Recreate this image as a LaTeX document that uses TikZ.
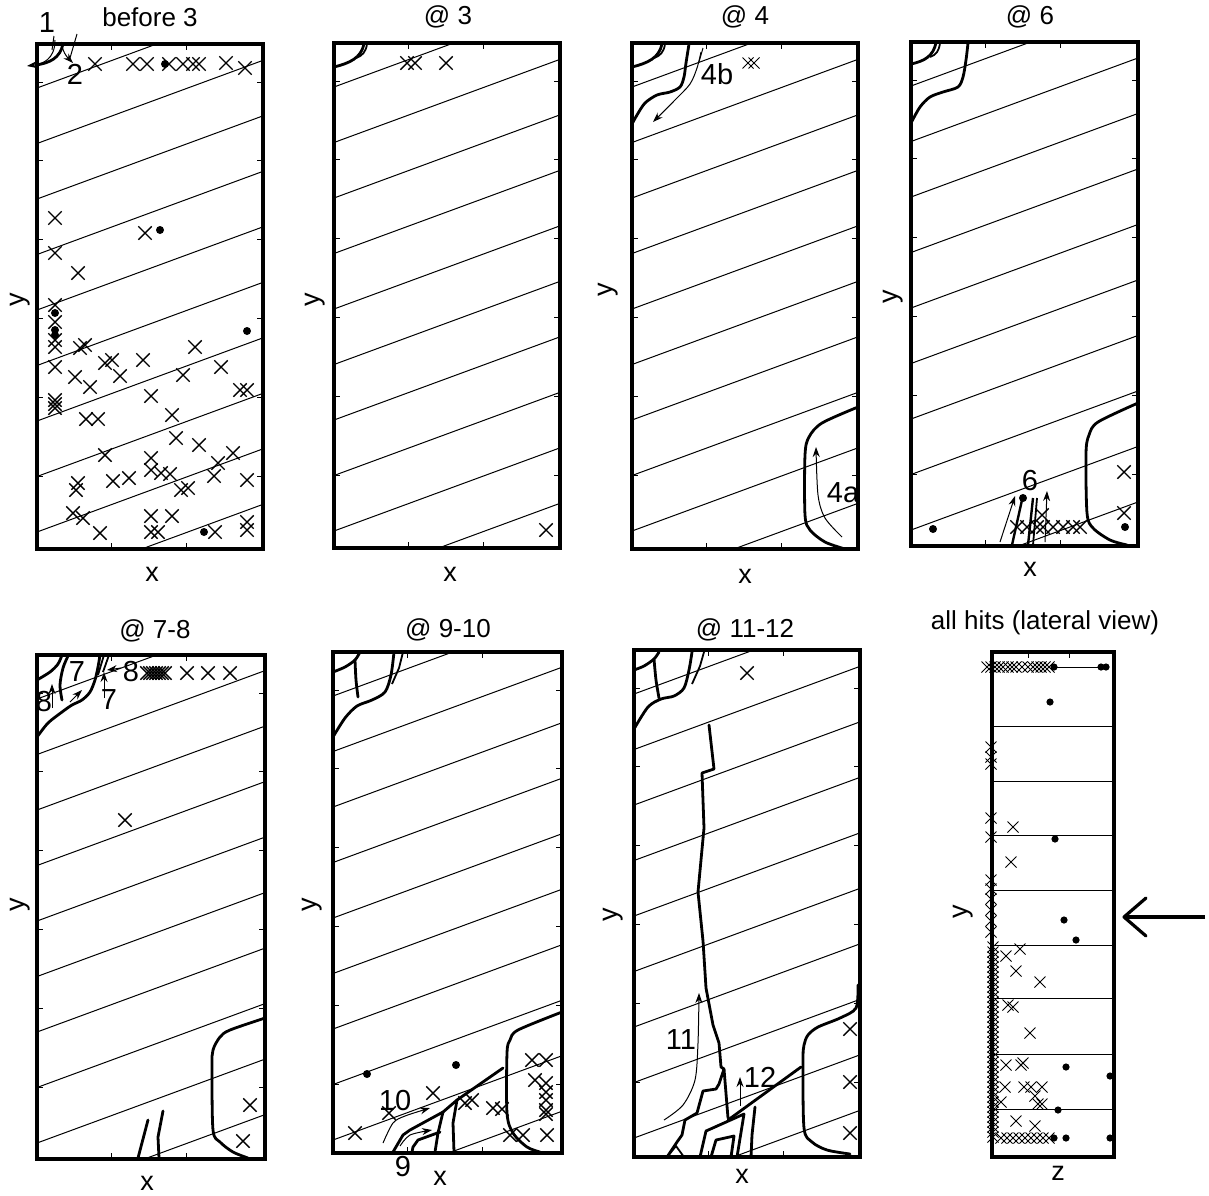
\documentclass[tikz,border=0pt]{standalone}
\usepackage{fontspec}
\setmainfont{Liberation Sans}
\usetikzlibrary{shapes.misc,arrows.meta}
\newcommand{\mypanel}[4]{%
  \begin{scope}
    \clip (#1,#2) rectangle ++(#3,#4);
    \foreach \k in {-1,...,10} {\draw[gridln] (#1,{#2+44+55.5*\k}) -- ++(#3,{-0.368*#3});}
  \end{scope}
  \foreach \t in {74,149} {\draw[gridln] ({#1+\t},#2) -- ++(0,6); \draw[gridln] ({#1+\t},{#2+#4}) -- ++(0,-6);}
  \foreach \k in {0,...,5} {\draw[gridln] (#1,{#2+38+78.8*\k}) -- ++(6,0); \draw[gridln] ({#1+#3},{#2+38+78.8*\k}) -- ++(-6,0);}
  \draw[frame] (#1,#2) rectangle ++(#3,#4);
}
\begin{document}
\begin{tikzpicture}[x=1pt,y=-1pt,
  frame/.style={line width=3.2pt},
  gridln/.style={line width=1pt},
  crack/.style={line width=2.8pt, line join=round, line cap=round},
  hit/.style={cross out, draw, line width=1.4pt, minimum size=12pt, inner sep=0pt},
  shit/.style={cross out, draw, line width=1pt, minimum size=10pt, inner sep=0pt},
  lbl/.style={font=\fontsize{29}{29}\selectfont, inner sep=0pt},
  ttl/.style={font=\fontsize{26}{26}\selectfont, inner sep=0pt},
  axl/.style={font=\fontsize{27}{27}\selectfont, inner sep=0pt},
  thinarrow/.style={line width=1pt, -{Stealth[length=10pt,width=7pt]}},
]
\useasboundingbox[fill=white] (0,0) rectangle (1209,1195);

% ---------------- frames and contour lines
\mypanel{37}{44}{226}{505}
\mypanel{334}{43}{226}{505}
\mypanel{632}{43}{226}{506}
\mypanel{911}{42}{227}{504}
\mypanel{37}{655}{228}{504}
\mypanel{333}{652}{229}{501}
\mypanel{634}{650}{226}{507}

% lateral view panel
\foreach \yy in {726,781,835,890,945,998,1054,1109} {\draw[gridln] (992,\yy) -- (1114,\yy);}
\foreach \t in {1028,1069} {\draw[gridln] (\t,652) -- ++(0,6);}
\draw[frame] (992,652) rectangle (1114,1157);

% ---------------- titles
\node[ttl] (t1) at (150,17) {before 3};
\node[ttl] (t2) at (448,17) {@ 3};
\node[ttl] (t3) at (745,17) {@ 4};
\node[ttl] (t4) at (1030,17) {@ 6};
\node[ttl] (t5) at (155,631) {@ 7-8};
\node[ttl] (t6) at (448,630) {@ 9-10};
\node[ttl] (t7) at (745,630) {@ 11-12};
\node[ttl] (t8) at (1045,623) {all hits (lateral view)};

% ---------------- axis labels
\node[axl] (x1) at (152,574) {x};
\node[axl] (x2) at (450,574) {x};
\node[axl] (x3) at (745,576) {x};
\node[axl] (x4) at (1030,569) {x};
\node[axl] (x5) at (147,1183) {x};
\node[axl] (x6) at (440,1178) {x};
\node[axl] (x7) at (742,1176) {x};
\node[axl] (z8) at (1058,1173) {z};
\node[axl,rotate=90] (y1) at (20,300) {y};
\node[axl,rotate=90] (y2) at (315,300) {y};
\node[axl,rotate=90] (y3) at (608,290) {y};
\node[axl,rotate=90] (y4) at (893,297) {y};
\node[axl,rotate=90] (y5) at (20,905) {y};
\node[axl,rotate=90] (y6) at (312,905) {y};
\node[axl,rotate=90] (y7) at (613,915) {y};
\node[axl,rotate=90] (y8) at (963,912) {y};

% ================= Panel 1: before 3
\draw[thinarrow] (55,40) .. controls (55,60) and (42,64) .. (27,66);
\draw[crack] (36,65) .. controls (50,63) and (60,58) .. (63,44);
\draw[thinarrow] (61,42) .. controls (63,52) and (66,56) .. (73,63);
\draw[gridln] (77,34) -- (70,58);
\draw[gridln] (54,36) -- (52,50);
\node[lbl] (l1) at (47,23) {1};
\node[lbl] (l2) at (75,74) {2};
\foreach \p in {(95,64),(133,64),(147,64),(169,64),(183,64),(193,64),(199,64),(226,63),(245,68),
  (55,218),(145,233),(55,253),(78,273),
  (55,305),(55,322),(55,340),(55,347),(80,348),(85,345),(55,367),(75,377),(90,387),(105,363),(112,360),(120,376),(143,360),(195,347),(183,375),(221,367),(240,390),(247,390),
  (55,400),(55,404),(55,408),(86,419),(98,419),(151,396),(172,415),(176,438),(199,445),(105,455),(151,458),(151,470),(161,473),(170,474),(218,463),(233,453),(214,476),(247,480),(78,483),(76,490),(113,481),(129,478),(181,490),(188,488),(73,513),(83,518),(151,516),(172,516),(100,533),(151,532),(158,532),(215,532),(247,522),(247,530)}
  {\node[hit] at \p {};}
\foreach \p in {(165,64),(160,230),(55,313),(55,330),(55,335),(247,331),(204,532)}
  {\fill \p circle (4);}

% ================= Panel 2: @ 3
\draw[crack] (334,67) .. controls (350,63) and (361,58) .. (364,44);
\draw[line width=1.8pt] (367,44) .. controls (366,52) and (362,56) .. (356,58);
\foreach \p in {(407,63),(415,63),(446,63),(546,530)} {\node[hit] at \p {};}

% ================= Panel 3: @ 4
\draw[crack] (632,67) .. controls (648,63) and (659,58) .. (662,44);
\draw[line width=1.8pt] (665,44) .. controls (664,52) and (660,56) .. (654,58);
\draw[crack] plot[smooth] coordinates {(632,124) (637,115) (645,103) (657,95) (670,92) (680,87) (684,77) (686,63) (689,44)};
\draw[gridln] (703,48) -- (699,62);
\draw[thinarrow] plot[smooth] coordinates {(701,52) (697,68) (690,84) (675,100) (653,122)};
\node[lbl] (l4b) at (717,74) {4b};
\foreach \p in {(748,63),(754,63)} {\node[shit] at \p {};}
\draw[crack] plot[smooth] coordinates {(858,407) (822,423) (809,437) (805,455) (805,515) (810,530) (825,542) (845,549)};
\draw[thinarrow] plot[smooth] coordinates {(842,537) (825,518) (818,495) (816,447)};
\node[lbl] (l4a) at (843,493) {4a};

% ================= Panel 4: @ 6
\draw[crack] (911,64) .. controls (925,61) and (933,56) .. (936,43);
\draw[line width=1.8pt] (940,43) .. controls (939,51) and (936,55) .. (930,57);
\draw[crack] plot[smooth] coordinates {(911,123) (920,107) (930,97) (943,92) (958,87) (963,77) (966,60) (968,43)};
\draw[crack] plot[smooth] coordinates {(1138,403) (1098,422) (1089,435) (1086,453) (1087,513) (1093,528) (1110,540) (1127,545)};
\foreach \p in {(1124,472),(1124,513),(1017,527),(1027,527),(1037,527),(1043,527),(1053,527),(1063,527),(1073,527),(1080,527),(1042,515)} {\node[hit] at \p {};}
\foreach \p in {(1125,527),(933,529),(1023,498)} {\fill \p circle (4);}
\draw[thinarrow] (1000,542) -- (1015,496);
\draw[line width=2.4pt] (1012,545) -- (1022,500);
\draw[line width=2.4pt] (1028,545) -- (1033,498);
\draw[line width=1.8pt] (1033,545) -- (1037,498);
\draw[thinarrow] (1045,542) -- (1047,491);
\node[lbl] (l6) at (1030,481) {6};

% ================= Panel 5: @ 7-8
\draw[crack] plot[smooth] coordinates {(37,737) (48,723) (62,712) (72,705) (82,700) (90,692) (95,680) (98,667) (100,655)};
\draw[crack] plot[smooth] coordinates {(37,680) (50,672) (58,664) (62,655)};
\draw[crack] plot[smooth] coordinates {(68,656) (63,668) (60,685) (62,700)};
\draw[line width=1.8pt] (104,655) -- (98,675);
\draw[line width=1.8pt] (109,655) -- (103,672);
\draw[thinarrow] (52,708) -- (52,684);
\draw[thinarrow] (70,702) -- (82,690);
\draw[thinarrow] (104,698) -- (104,672);
\draw[thinarrow] (121,668) -- (107,670);
\node[lbl] (l8a) at (44,702) {8};
\node[lbl] (l7a) at (77,672) {7};
\node[lbl] (l8b) at (131,672) {8};
\node[lbl] (l7b) at (109,700) {7};
\foreach \p in {(147,673),(150,673),(153,673),(156,673),(159,673),(162,673),(165,673),(187,673),(208,673),(230,673),(125,820),(250,1105),(243,1141)} {\node[hit] at \p {};}
\draw[crack] plot[smooth] coordinates {(265,1018) (230,1030) (220,1037) (213,1050) (212,1067) (213,1130) (220,1142) (233,1152) (248,1158)};
\draw[crack] (138,1158) -- (148,1120);
\draw[crack] (159,1158) -- (158,1137) -- (163,1111);

% ================= Panel 6: @ 9-10
\draw[crack] plot[smooth] coordinates {(333,737) (345,718) (357,706) (372,700) (385,692) (391,675) (394,652)};
\draw[crack] plot[smooth] coordinates {(333,672) (345,667) (355,660) (360,652)};
\draw[crack] plot[smooth] coordinates {(355,660) (356,680) (358,697)};
\draw[line width=1.8pt] (403,652) -- (399,668) -- (392,684);
\draw[crack] plot[smooth] coordinates {(562,1012) (518,1030) (510,1040) (507,1053) (507,1113) (513,1133) (527,1147) (540,1152)};
\draw[crack] (503,1068) -- (457,1100) -- (443,1112) -- (410,1130) -- (403,1135) -- (393,1152);
\draw[crack] (457,1100) -- (453,1123) -- (454,1152);
\draw[crack] (443,1112) -- (438,1133) -- (435,1152);
\draw[crack] (440,1132) -- (418,1140) -- (413,1147) -- (412,1152);
\draw[thinarrow] plot[smooth] coordinates {(383,1143) (393,1123) (405,1116) (430,1108)};
\draw[thinarrow] plot[smooth] coordinates {(400,1146) (410,1135) (432,1130)};
\node[lbl] (l10) at (395,1100) {10};
\node[lbl] (l9) at (403,1166) {9};
\foreach \p in {(367,1074),(456,1065)} {\fill \p circle (4);}
\foreach \p in {(355,1133),(389,1113),(433,1093),(465,1103),(472,1100),(493,1108),(502,1109),(510,1135),(523,1135),(547,1135),(532,1060),(546,1060),(535,1080),(546,1083),(546,1092),(546,1100),(546,1110),(546,1114)} {\node[hit] at \p {};}

% ================= Panel 7: @ 11-12
\draw[crack] plot[smooth] coordinates {(634,729) (648,707) (661,699) (674,696) (684,688) (689,670) (692,652)};
\draw[crack] plot[smooth] coordinates {(634,670) (644,666) (654,659) (659,652)};
\draw[crack] plot[smooth] coordinates {(654,659) (656,680) (659,698)};
\draw[line width=1.8pt] (704,652) -- (700,666) -- (692,684);
\draw[crack] (709,725) -- (714,769) -- (702,773) -- (704,828) -- (698,892) -- (703,941) -- (706,988) -- (713,1025) -- (719,1043) -- (721,1067) -- (724,1069) -- (719,1084) -- (716,1089) -- (703,1091) -- (697,1113) -- (685,1120) -- (682,1135) -- (677,1142) -- (671,1151) -- (667,1157);
\draw[crack] (724,1069) -- (728,1118);
\draw[crack] (801,1067) -- (728,1120);
\draw[crack] plot[smooth] coordinates {(858,985) (856,1008) (840,1018) (818,1027) (808,1035) (804,1045) (803,1061) (804,1128) (812,1142) (827,1150) (850,1154)};
\draw[crack] (700,1157) -- (706,1131) -- (744,1114) -- (737,1157);
\draw[crack] (711,1157) -- (716,1140) -- (734,1136) -- (731,1157);
\draw[crack] (755,1107) -- (752,1135) -- (751,1157);
\draw[line width=1.8pt] (667,1157) -- (676,1146) -- (684,1157);
\draw[thinarrow] plot[smooth] coordinates {(664,1120) (683,1105) (695,1080) (698,1043) (699,993)};
\draw[thinarrow] (740,1106) -- (740,1077);
\node[lbl] (l11) at (681,1040) {11};
\node[lbl] (l12) at (760,1077) {12};
\foreach \p in {(747,673),(850,1029),(850,1082),(850,1133)} {\node[hit] at \p {};}

% ================= Panel 8: lateral view
\draw[gridln] (1052,667) -- (1106,667);
\foreach \xx in {987,991,995,999,1003,1008,1012,1016,1022,1028,1033,1037,1041,1045,1049} {\node[shit] at (\xx,667) {};}
\foreach \yy in {747,757,764,818,837,880,889,899,910,921,932} {\node[shit] at (991,\yy) {};}
\foreach \yy in {947,952,...,1141} {\node[shit] at (993,\yy) {};}
\foreach \p in {(1013,827),(1011,862),(1006,956),(1020,949),(1016,971),(1040,982),(1008,1005),(1013,1007),(1030,1033),(1006,1065),(1021,1065),(1023,1063),(1005,1087),(1024,1087),(1031,1087),(1042,1087),(1035,1096),(1038,1104),(1042,1104),(1001,1102),(1016,1121),(1035,1126),(1001,1138),(1007,1138),(1013,1138),(1019,1138),(1025,1138),(1031,1138),(1037,1138),(1043,1138),(1049,1138)} {\node[shit] at \p {};}
\foreach \p in {(1054,667),(1101,667),(1106,667),(1050,702),(1055,839),(1064,920),(1076,940),(1066,1067),(1110,1076),(1058,1110),(1054,1138),(1066,1138),(1110,1138)} {\fill \p circle (3.6);}

% big arrow
\coordinate (atail) at (1205,917);
\coordinate (ahead) at (1124,917);
\draw[line width=3.2pt] (atail) -- (ahead);
\draw[line width=3.2pt, line cap=round, line join=round] (1146,898) -- (ahead) -- (1146,936);
\end{tikzpicture}
\end{document}
